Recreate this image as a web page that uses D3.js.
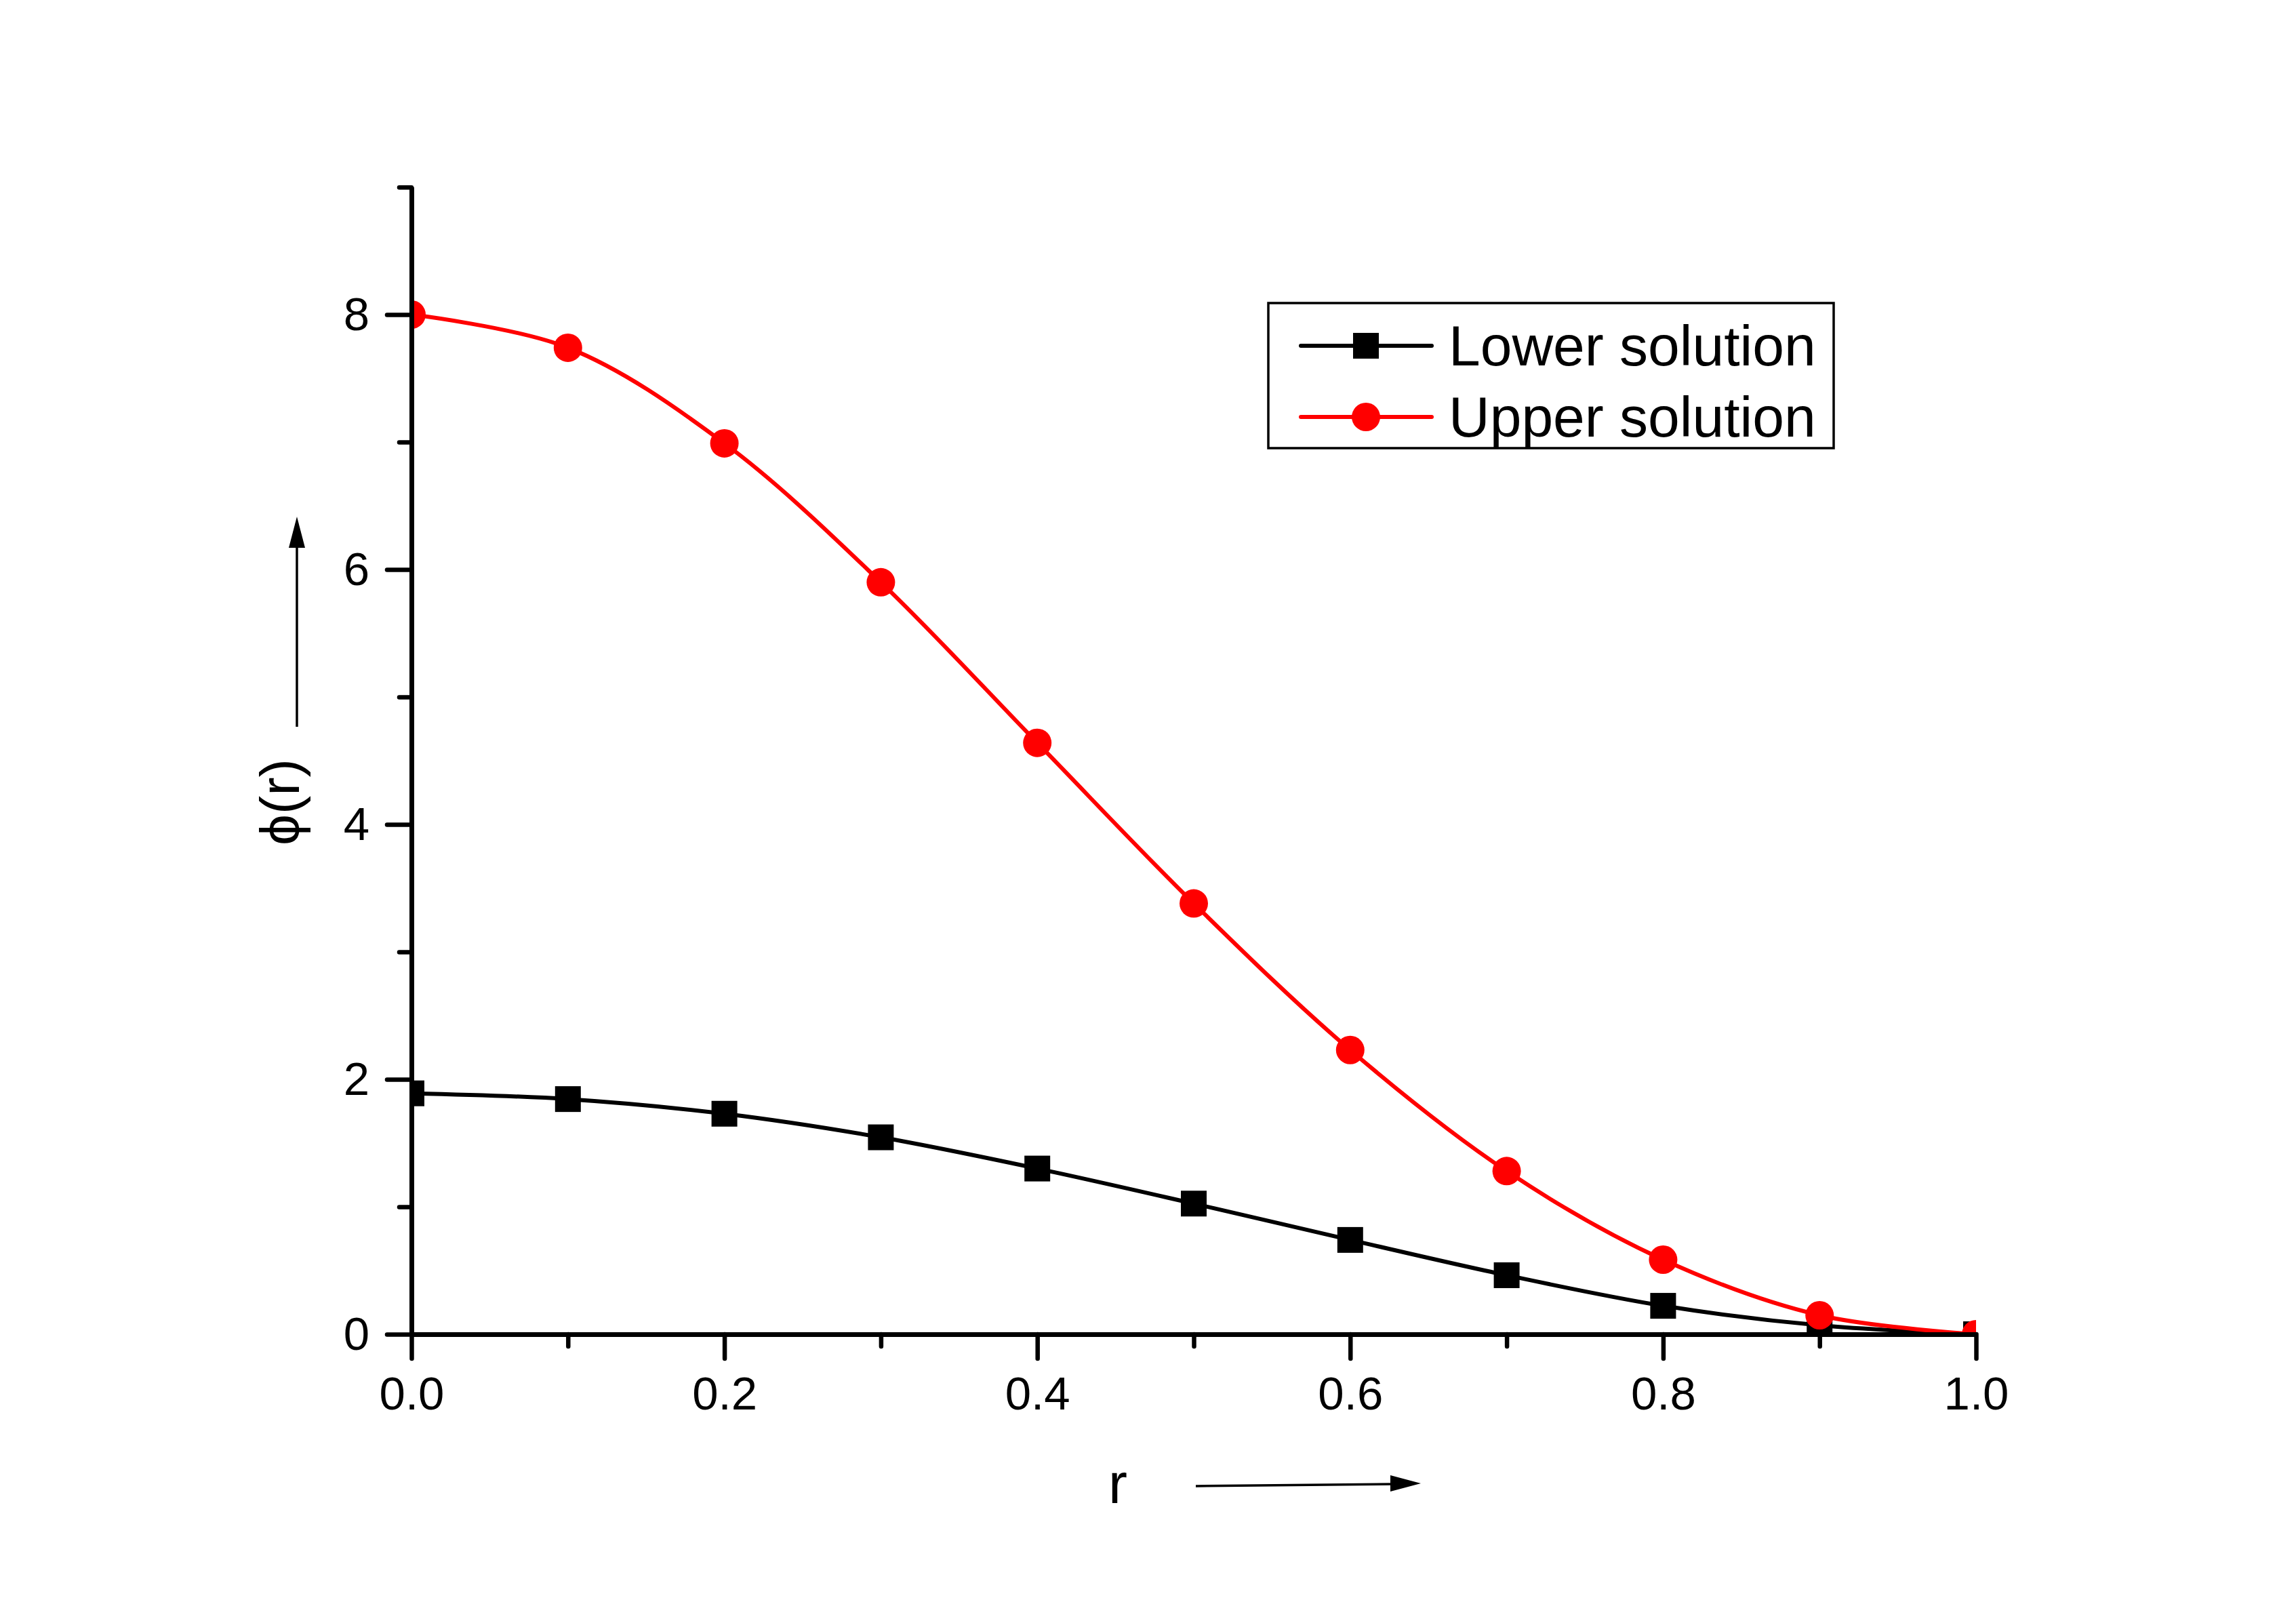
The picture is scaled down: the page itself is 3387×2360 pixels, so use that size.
<!DOCTYPE html>
<html>
<head>
<meta charset="utf-8">
<script src="https://cdn.jsdelivr.net/npm/d3@7"></script>
<style>
    html, body { margin: 0; padding: 0; background: #fff; }
    text { font-family: "Liberation Sans", Arial, sans-serif; }
</style>
</head>
<body>
<div class="chart-container"></div>
<script>
var rValues = [0, 0.1, 0.2, 0.3, 0.4, 0.5, 0.6, 0.7, 0.8, 0.9, 1.0],
    lowerValues = [1.89, 1.845, 1.73, 1.545, 1.30, 1.025, 0.74, 0.463, 0.223, 0.07, 0],
    upperValues = [8.0, 7.74, 6.99, 5.90, 4.64, 3.38, 2.23, 1.28, 0.585, 0.149, 0],
    xMajorTicks = [0, 0.2, 0.4, 0.6, 0.8, 1.0],
    xMinorTicks = [0.1, 0.3, 0.5, 0.7, 0.9],
    yMajorTicks = [0, 2, 4, 6, 8],
    yMinorTicks = [1, 3, 5, 7, 9],
    seriesNames = ["Lower solution", "Upper solution"],
    seriesColors = ["#000000", "#ff0000"];

var totalWidth = 3387,
    totalHeight = 2360,
    margin = { top: 276, right: 472, bottom: 392, left: 607 },
    width = totalWidth - margin.left - margin.right,
    height = totalHeight - margin.top - margin.bottom;

var svg = d3.select(".chart-container").append("svg")
        .attr("width", totalWidth)
        .attr("height", totalHeight)
        .style("display", "block"),
    g = svg.append("g")
        .attr("transform", "translate(" + margin.left + "," + margin.top + ")");

var x = d3.scaleLinear().domain([0, 1]).range([0, width]),
    y = d3.scaleLinear().domain([0, 9]).range([height, 0]);

// clip marks to the plot area like the original
g.append("clipPath").attr("id", "plot-clip")
    .append("rect").attr("x", 0).attr("y", 0).attr("width", width).attr("height", height);

var series = [
    { name: seriesNames[0], color: seriesColors[0], values: lowerValues, shape: "square" },
    { name: seriesNames[1], color: seriesColors[1], values: upperValues, shape: "circle" }
];

var line = d3.line()
    .x(function (d) { return x(d.r); })
    .y(function (d) { return y(d.v); })
    .curve(d3.curveCatmullRom.alpha(0.5));

var plot = g.append("g").attr("clip-path", "url(#plot-clip)");

series.forEach(function (s) {
    var pts = rValues.map(function (r, i) { return { r: r, v: s.values[i] }; }),
        sg = plot.append("g");

    sg.append("path")
        .datum(pts)
        .attr("fill", "none")
        .attr("stroke", s.color)
        .attr("stroke-width", 6)
        .attr("d", line);

    if (s.shape === "square") {
        sg.selectAll("rect").data(pts).enter().append("rect")
            .attr("x", function (d) { return x(d.r) - 19; })
            .attr("y", function (d) { return y(d.v) - 19; })
            .attr("width", 38)
            .attr("height", 38)
            .attr("fill", s.color);
    } else {
        sg.selectAll("circle").data(pts).enter().append("circle")
            .attr("cx", function (d) { return x(d.r); })
            .attr("cy", function (d) { return y(d.v); })
            .attr("r", 21)
            .attr("fill", s.color);
    }
});

// axes
function styleAxis(sel) {
    sel.select(".domain").attr("stroke-width", 7);
    sel.selectAll(".tick line").attr("stroke-width", 6.5).attr("stroke-linecap", "round");
    sel.selectAll(".tick text")
        .attr("font-size", 69)
        .attr("font-family", "Liberation Sans, Arial, sans-serif")
        .attr("fill", "#000");
}

g.append("g")
    .attr("transform", "translate(0," + height + ")")
    .call(d3.axisBottom(x).tickValues(xMinorTicks).tickSize(18).tickSizeOuter(0).tickFormat(""))
    .call(styleAxis);

g.append("g")
    .attr("transform", "translate(0," + height + ")")
    .call(d3.axisBottom(x).tickValues(xMajorTicks).tickSize(36).tickSizeOuter(0).tickPadding(26).tickFormat(d3.format(".1f")))
    .call(styleAxis);

g.append("g")
    .call(d3.axisLeft(y).tickValues(yMinorTicks).tickSize(18).tickSizeOuter(0).tickFormat(""))
    .call(styleAxis);

g.append("g")
    .call(d3.axisLeft(y).tickValues(yMajorTicks).tickSize(36).tickSizeOuter(0).tickPadding(26).tickFormat(d3.format("d")))
    .call(styleAxis);

// axis titles with arrows
svg.append("text")
    .attr("x", 1649)
    .attr("y", 2217)
    .attr("text-anchor", "middle")
    .attr("font-size", 84)
    .text("r");

svg.append("path")
    .attr("d", "M1764,2192 L2056,2189")
    .attr("stroke", "#000")
    .attr("stroke-width", 3.5)
    .attr("fill", "none");
svg.append("path")
    .attr("d", "M2096,2188 L2051,2176 L2051,2200 Z")
    .attr("fill", "#000");

svg.append("text")
    .attr("transform", "translate(441,1183) rotate(-90)")
    .attr("text-anchor", "middle")
    .attr("font-size", 82)
    .text("\u03d5(r)");

svg.append("path")
    .attr("d", "M438,1072 L438,800")
    .attr("stroke", "#000")
    .attr("stroke-width", 3.5)
    .attr("fill", "none");
svg.append("path")
    .attr("d", "M438,762 L426,808 L450,808 Z")
    .attr("fill", "#000");

// legend
var legend = svg.append("g").attr("transform", "translate(1871,447)");

legend.append("rect")
    .attr("width", 834)
    .attr("height", 214)
    .attr("fill", "#fff")
    .attr("stroke", "#000")
    .attr("stroke-width", 3.5);

series.forEach(function (s, i) {
    var row = legend.append("g").attr("transform", "translate(0," + (63 + i * 105) + ")");

    row.append("line")
        .attr("x1", 48).attr("x2", 241)
        .attr("stroke", s.color)
        .attr("stroke-width", 6)
        .attr("stroke-linecap", "round");

    if (s.shape === "square") {
        row.append("rect").attr("x", 144 - 19).attr("y", -19).attr("width", 38).attr("height", 38).attr("fill", s.color);
    } else {
        row.append("circle").attr("cx", 144).attr("r", 21).attr("fill", s.color);
    }

    row.append("text")
        .attr("x", 266)
        .attr("y", 29)
        .attr("font-size", 84)
        .text(s.name);
});
</script>
</body>
</html>
